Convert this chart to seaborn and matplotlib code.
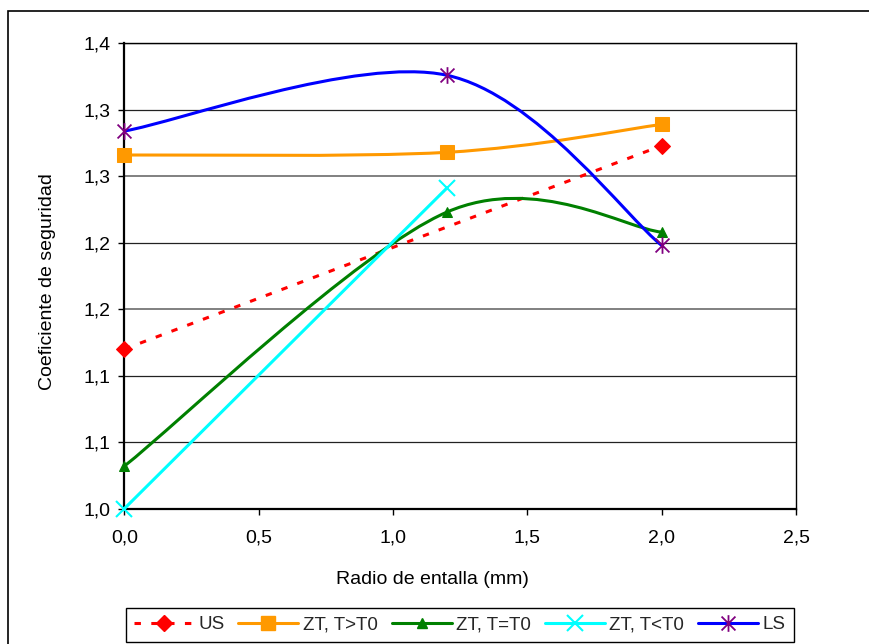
import numpy as np
import matplotlib
matplotlib.use("Agg")
import matplotlib.pyplot as plt
from matplotlib.path import Path
from matplotlib.patches import PathPatch, Rectangle
from matplotlib.lines import Line2D
import seaborn as sns

# Safety factor versus notch radius for each criterion
radius_us = [0.0, 2.0]
coef_us = [1.120, 1.273]

radius_zt = [0.0, 1.2, 2.0]
coef_zt_gt = [1.266, 1.268, 1.289]
coef_zt_eq = [1.032, 1.223, 1.208]

radius_zt_lt = [0.0, 1.2]
coef_zt_lt = [1.000, 1.241]

radius_ls = [0.0, 1.2, 2.0]
coef_ls = [1.284, 1.326, 1.198]

series_names = ["US", "ZT, T>T0", "ZT, T=T0", "ZT, T<T0", "LS"]

y_ticks = [1.00, 1.05, 1.10, 1.15, 1.20, 1.25, 1.30, 1.35]
y_tick_labels = ["1,0", "1,1", "1,1", "1,2", "1,2", "1,3", "1,3", "1,4"]
x_ticks = [0.0, 0.5, 1.0, 1.5, 2.0, 2.5]
x_tick_labels = ["0,0", "0,5", "1,0", "1,5", "2,0", "2,5"]

RED, ORANGE, GREEN, CYAN, BLUE, PURPLE = "#FF0000", "#FF9900", "#008000", "#00FFFF", "#0000FF", "#800080"
LW = 2.2

sns.set_theme(style="white")
plt.rcParams["font.family"] = ["Liberation Sans", "DejaVu Sans"]

# six-armed asterisk marker (x plus vertical bar)
asterisk = Path(
    [(-0.5, -0.5), (0.5, 0.5), (-0.5, 0.5), (0.5, -0.5), (0, -0.6), (0, 0.6)],
    [Path.MOVETO, Path.LINETO, Path.MOVETO, Path.LINETO, Path.MOVETO, Path.LINETO],
)


def smooth_path(xs, ys):
    """Cubic Bezier path through the points (Catmull-Rom tangents)."""
    pts = np.column_stack([xs, ys]).astype(float)
    verts = [pts[0]]
    codes = [Path.MOVETO]
    n = len(pts)
    for i in range(n - 1):
        p0 = pts[i - 1] if i > 0 else pts[i]
        p1, p2 = pts[i], pts[i + 1]
        p3 = pts[i + 2] if i + 2 < n else pts[i + 1]
        verts += [p1 + (p2 - p0) / 6.0, p2 - (p3 - p1) / 6.0, p2]
        codes += [Path.CURVE4] * 3
    return Path(verts, codes)


fig = plt.figure(figsize=(8.69, 6.44), dpi=100)
ax = fig.add_axes([124.3 / 869, 1 - 508.7 / 644, 671.7 / 869, 465.4 / 644])

# US: straight dashed line
sns.lineplot(x=radius_us, y=coef_us, ax=ax, color=RED, lw=LW, marker="D",
             markersize=8.5, markeredgecolor=RED, markerfacecolor=RED,
             dashes=False, zorder=3, clip_on=False)
ax.lines[-1].set_dashes([2.1, 3.4])
ax.lines[-1].set_dash_capstyle("butt")

# ZT, T>T0: smoothed
ax.add_patch(PathPatch(smooth_path(radius_zt, coef_zt_gt), fill=False,
                       edgecolor=ORANGE, lw=LW, zorder=3))
sns.lineplot(x=radius_zt, y=coef_zt_gt, ax=ax, color=ORANGE, linestyle="none",
             marker="s", markersize=10, markeredgecolor=ORANGE, zorder=4,
             clip_on=False)

# ZT, T=T0: smoothed
ax.add_patch(PathPatch(smooth_path(radius_zt, coef_zt_eq), fill=False,
                       edgecolor=GREEN, lw=LW, zorder=3))
sns.lineplot(x=radius_zt, y=coef_zt_eq, ax=ax, color=GREEN, linestyle="none",
             marker="^", markersize=7.5, markeredgecolor=GREEN, zorder=4,
             clip_on=False)

# ZT, T<T0: straight
sns.lineplot(x=radius_zt_lt, y=coef_zt_lt, ax=ax, color=CYAN, lw=LW, marker="x",
             markersize=12, markeredgewidth=1.5, markeredgecolor=CYAN, zorder=4,
             clip_on=False)

# LS: smoothed
ax.add_patch(PathPatch(smooth_path(radius_ls, coef_ls), fill=False,
                       edgecolor=BLUE, lw=LW, zorder=5))
sns.lineplot(x=radius_ls, y=coef_ls, ax=ax, color=PURPLE, linestyle="none",
             marker=asterisk, markersize=12, markeredgewidth=1.3,
             markeredgecolor=PURPLE, zorder=6, clip_on=False)

ax.set_xlim(0, 2.5)
ax.set_ylim(1.0, 1.35)
ax.set_xticks(x_ticks)
ax.set_xticklabels(x_tick_labels)
ax.set_yticks(y_ticks)
ax.set_yticklabels(y_tick_labels)
ax.tick_params(axis="both", labelsize=14, colors="black", direction="out",
               length=4.2, width=1.0)
ax.tick_params(axis="x", pad=11)
ax.tick_params(axis="y", pad=5.5)
ax.tick_params(left=True, bottom=True)

ax.set_axisbelow(True)
ax.yaxis.grid(True, color="#222222", lw=0.9)
ax.xaxis.grid(False)
for i, gl in enumerate(ax.yaxis.get_gridlines()):
    if i in (3, 5):
        gl.set_color("#808080")
        gl.set_linewidth(1.4)

for side in ("left", "bottom"):
    ax.spines[side].set_color("black")
    ax.spines[side].set_linewidth(1.6)
for side in ("right", "top"):
    ax.spines[side].set_color("black")
    ax.spines[side].set_linewidth(1.0)

ax.set_xlabel("Radio de entalla (mm)", fontsize=14, color="black", va="center")
ax.xaxis.set_label_coords(0.459, -0.153)
ax.set_ylabel("Coeficiente de seguridad", fontsize=14, color="black", va="center")
ax.yaxis.set_label_coords(-0.1136, 0.487)

handles = [
    Line2D([], [], color=RED, lw=LW, dashes=[2.1, 3.4], dash_capstyle="butt",
           marker="D", markersize=8.5, markerfacecolor=RED, markeredgecolor=RED),
    Line2D([], [], color=ORANGE, lw=LW, marker="s", markersize=10,
           markerfacecolor=ORANGE, markeredgecolor=ORANGE),
    Line2D([], [], color=GREEN, lw=LW, marker="^", markersize=7.5,
           markerfacecolor=GREEN, markeredgecolor=GREEN),
    Line2D([], [], color=CYAN, lw=LW, marker="x", markersize=12,
           markeredgewidth=1.5, markeredgecolor=CYAN),
    Line2D([], [], color=BLUE, lw=LW, marker=asterisk, markersize=12,
           markeredgewidth=1.3, markeredgecolor=PURPLE),
]
leg = fig.legend(handles, series_names, loc="center", bbox_to_anchor=(0.529, 0.0298),
                 ncol=5, fontsize=13.5, frameon=True, fancybox=False, shadow=False,
                 framealpha=1, edgecolor="black", handlelength=3.2,
                 handletextpad=0.25, columnspacing=0.72, borderpad=0.45,
                 borderaxespad=0)
leg.get_frame().set_linewidth(1.0)

# outer chart frame
fig.patches.append(Rectangle((8 / 869, -0.1), 1.2, 1 - 11 / 644 + 0.1,
                             transform=fig.transFigure, fill=False,
                             edgecolor="black", lw=1.2, zorder=0))

fig.savefig("out.png", dpi=100)
